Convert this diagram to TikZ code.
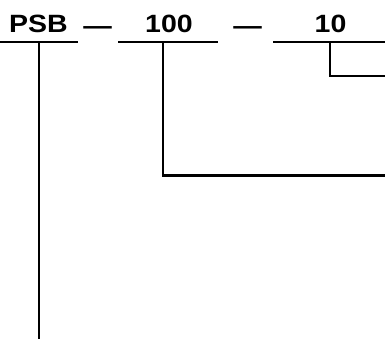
\documentclass[tikz,border=0pt]{standalone}
\usepackage{fontspec}
\setmainfont{Liberation Sans}
\usetikzlibrary{positioning}

\begin{document}
\begin{tikzpicture}
			[line cap=butt,line join=miter,x=1pt,y=-1pt,
			code/.style={font=\bfseries\fontsize{25}{25}\selectfont,inner sep=0pt,anchor=base,xscale=1.14},
			rule/.style={line width=2pt}]
			\useasboundingbox (0,0) rectangle (385,339);
			% code letters
			\node[code] (psb) at (38.5,33) {PSB};
			\node[code] (dashA) at (97.5,35) {---};
			\node[code] (cap) at (169,33) {100};
			\node[code] (dashB) at (247.5,35) {---};
			\node[code] (len) at (330.5,33) {10};
			% underlines
			\coordinate (psbL) at (0,42);
			\coordinate (psbR) at (78,42);
			\coordinate (capL) at (118,42);
			\coordinate (capR) at (218,42);
			\coordinate (lenL) at (273,42);
			\coordinate (lenR) at (385,42);
			\draw [rule] (psbL) -- (psbR);
			\draw [rule] (capL) -- (capR);
			\draw [rule] (lenL) -- (lenR);
			% leaders
			\coordinate (psbT) at (39,42);
			\coordinate (psbE) at (39,339);
			\coordinate (capT) at (162.5,42);
			\coordinate (capE) at (385,175.5);
			\coordinate (lenT) at (329.5,42);
			\coordinate (lenE) at (385,76);
			\draw [rule] (psbT) -- (psbE);
			\draw [rule] (capT) |- (capE);
			\draw [rule] (lenT) |- (lenE);
		\end{tikzpicture}
\end{document}
